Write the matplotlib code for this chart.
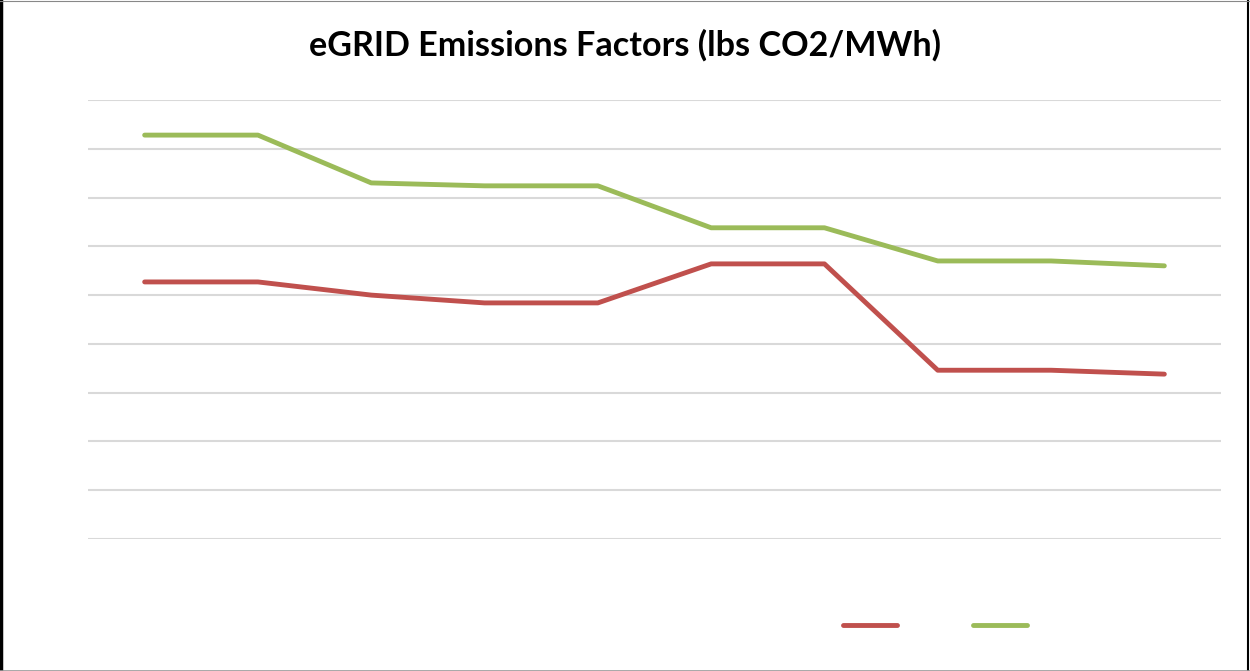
import matplotlib.pyplot as plt
from matplotlib.lines import Line2D

# categories (no labels shown on the original chart)
points = list(range(10))
series_red = [527, 527, 500, 484, 484, 564, 564, 346, 346, 338]
series_green = [828, 828, 730, 724, 724, 638, 638, 570, 570, 560]
yticks = list(range(0, 1000, 100))

red = '#C0504D'
green = '#9BBB59'

fig = plt.figure(figsize=(12.5, 6.71), dpi=100)
ax = fig.add_axes([0.0704, 0.1967, 0.9064, 0.6543])

ax.plot(points, series_red, color=red, lw=3.5, solid_capstyle='round', solid_joinstyle='round')
ax.plot(points, series_green, color=green, lw=3.5, solid_capstyle='round', solid_joinstyle='round')

ax.set_xlim(-0.5, 9.5)
ax.set_ylim(0, 900)
ax.set_yticks(yticks)
ax.set_xticks([])
ax.tick_params(axis='y', length=0, labelleft=False)
ax.grid(axis='y', color='#D9D9D9', lw=1.5)
ax.set_axisbelow(True)
for s in ax.spines.values():
    s.set_visible(False)

fig.text(0.5, 0.933, 'eGRID Emissions Factors (lbs CO2/MWh)', ha='center', va='center',
         fontsize=24.6, family='Lato', weight='bold')

# legend with no text, only the line swatches
handles = [Line2D([], [], color=red, lw=3.5, solid_capstyle='round'),
           Line2D([], [], color=green, lw=3.5, solid_capstyle='round')]
ax.legend(handles, ['', ''], ncol=2, loc='center', bbox_to_anchor=(0.748, 0.067),
          bbox_transform=fig.transFigure, frameon=False, fontsize=14,
          handlelength=2.8, handletextpad=0, columnspacing=3.9)

# outer frame: black on left/right, grey on top/bottom
W, H = 1250, 671
frame = [((1.5 / W, 1.5 / W), (0, 1), 'black', 2.5),
         ((1 - 2 / W, 1 - 2 / W), (0, 1), 'black', 1.5),
         ((0, 1), (1 - 0.5 / H, 1 - 0.5 / H), '#888888', 0.8),
         ((0, 1), (0.5 / H, 0.5 / H), '#999999', 1.2)]
for xs, ys, c, w in frame:
    fig.add_artist(Line2D(xs, ys, transform=fig.transFigure, color=c, lw=w))

fig.savefig('out.png', dpi=100)
